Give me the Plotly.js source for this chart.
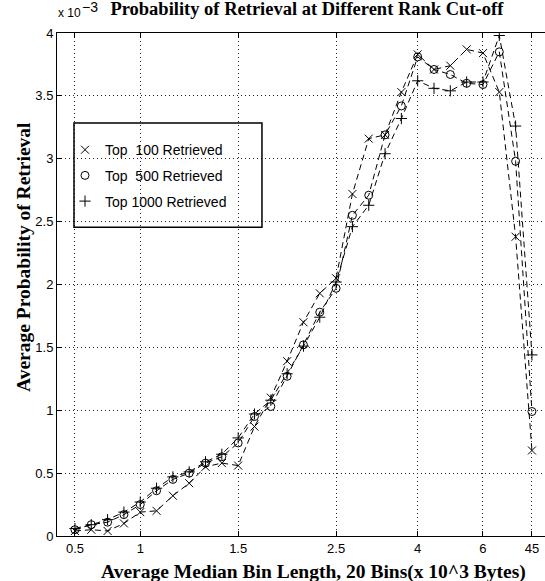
<!DOCTYPE html>
<html>
<head>
<meta charset="utf-8">
<script src="https://cdn.plot.ly/plotly-3.0.1.min.js"></script>
<style>html,body{margin:0;padding:0;background:#fff;}#chart{width:545px;height:581px;}</style>
</head>
<body>
<div id="chart"></div>
<script>
// Bin index (plot positions along x)
const binIndex = [0,1,2,3,4,5,6,7,8,9,10,11,12,13,14,15,16,17,18,19,20,21,22,23,24,25,26,27,28];
// Tick positions and labels (median bin length, x 10^3 bytes)
const tickIndex = [0,4,10,16,21,25,28];
const tickLabels = ['0.5','1','1.5','2.5','4','6','45'];
// Average probability of retrieval (x 10^-3)
const top100 = [0.04,0.05,0.04,0.10,0.19,0.20,0.32,0.42,0.55,0.58,0.56,0.87,1.10,1.39,1.70,1.93,2.05,2.72,3.16,3.19,3.53,3.83,3.71,3.74,3.87,3.84,3.53,2.38,0.68];
const top500 = [0.05,0.09,0.11,0.17,0.25,0.36,0.45,0.50,0.58,0.63,0.74,0.95,1.03,1.27,1.52,1.78,1.97,2.55,2.71,3.19,3.42,3.81,3.71,3.67,3.60,3.59,3.85,2.98,0.99];
const top1000 = [0.06,0.09,0.13,0.19,0.27,0.38,0.47,0.51,0.59,0.65,0.78,0.97,1.08,1.29,1.51,1.74,2.02,2.46,2.63,3.04,3.32,3.62,3.56,3.54,3.61,3.61,3.98,3.26,1.44];
const seriesNames = ['Top\u00A0\u00A0100 Retrieved','Top\u00A0\u00A0500 Retrieved','Top 1000 Retrieved'];
const symbols = ['x-thin-open','circle-open','cross-thin-open'];

const series = [top100, top500, top1000];
const traces = [];
series.forEach((ys, i) => {
  traces.push({
    x: binIndex, y: ys, type: 'scatter', mode: 'lines+markers',
    line: {color: '#000', width: 1, dash: '6px,4px'},
    marker: {symbol: symbols[i], size: 8, color: '#000', line: {color: '#000', width: 1}},
    showlegend: false, hoverinfo: 'skip'
  });
});
series.forEach((ys, i) => {
  traces.push({
    x: [null], y: [null], type: 'scatter', mode: 'markers', name: seriesNames[i],
    legendgroup: 'g' + i,
    marker: {symbol: symbols[i], size: 8, color: '#000', line: {color: '#000', width: 1}}
  });
});

const sansFam = 'Liberation Sans Narrow, Liberation Sans, Arial, sans-serif';
const tickFont = {family: sansFam, size: 13, color: '#000'};
const serifFam = 'Liberation Serif, Times New Roman, serif';
const axisTitleFont = {family: serifFam, size: 19.5, color: '#000', weight: 'bold'};

const layout = {
  width: 545, height: 581,
  margin: {l: 57, r: 0, t: 33, b: 45, pad: 0},
  paper_bgcolor: '#fff', plot_bgcolor: '#fff',
  showlegend: true,
  title: {text: 'Probability of Retrieval at Different Rank Cut-off',
          font: {family: serifFam, size: 18.5, color: '#000', weight: 'bold'},
          xref: 'paper', x: 0.512, xanchor: 'center', yref: 'container', y: 0.9845, yanchor: 'middle'},
  xaxis: {
    range: [-1.1, 28.8], tickmode: 'array', tickvals: tickIndex, ticktext: tickLabels,
    ticks: 'inside', ticklen: 5, tickcolor: '#000', tickwidth: 1,
    showline: true, linecolor: '#000', linewidth: 1, mirror: 'ticks',
    showgrid: true, gridcolor: '#222', griddash: '1px,3px', gridwidth: 1,
    zeroline: false, tickfont: tickFont
  },
  yaxis: {
    range: [0, 4], tickmode: 'array', tickvals: [0,0.5,1,1.5,2,2.5,3,3.5,4],
    ticktext: ['0','0.5','1','1.5','2','2.5','3','3.5','4'],
    ticks: 'inside', ticklen: 5, tickcolor: '#000', tickwidth: 1,
    showline: true, linecolor: '#000', linewidth: 1, mirror: false,
    showgrid: true, gridcolor: '#222', griddash: '1px,3px', gridwidth: 1,
    zeroline: false, tickfont: tickFont
  },
  legend: {
    x: 0.0164, xanchor: 'left', y: 0.799, yanchor: 'top',
    bgcolor: 'rgba(0,0,0,0)', borderwidth: 0, tracegroupgap: 4.5,
    font: {family: sansFam, size: 14, color: '#000'}
  },
  shapes: [{
    type: 'rect', xref: 'paper', yref: 'paper', x0: 0.0348, x1: 0.420, y0: 0.614, y1: 0.821,
    line: {color: '#000', width: 1.5}, fillcolor: 'rgba(0,0,0,0)'
  }],
  annotations: [
    {text: 'Average Probability of Retrieval', xref: 'paper', yref: 'paper', x: -0.0676, y: 0.5547,
     textangle: -90, showarrow: false, font: axisTitleFont, xanchor: 'center', yanchor: 'middle'},
    {text: 'Average Median Bin Length, 20 Bins(x 10^3 Bytes)', xref: 'paper', yref: 'paper', x: 0.5246, y: -0.0716,
     showarrow: false, font: axisTitleFont, xanchor: 'center', yanchor: 'middle'},
    {text: 'x 10', xref: 'paper', yref: 'paper', x: -0.002, y: 1.0398, showarrow: false,
     font: {family: sansFam, size: 12, color: '#000'}, xanchor: 'left', yanchor: 'middle'},
    {text: '\u22123', xref: 'paper', yref: 'paper', x: 0.047, y: 1.0518, showarrow: false,
     font: {family: sansFam, size: 14, color: '#000'}, xanchor: 'left', yanchor: 'middle'}
  ]
};

Plotly.newPlot('chart', traces, layout, {staticPlot: true, displayModeBar: false});
</script>
</body>
</html>
